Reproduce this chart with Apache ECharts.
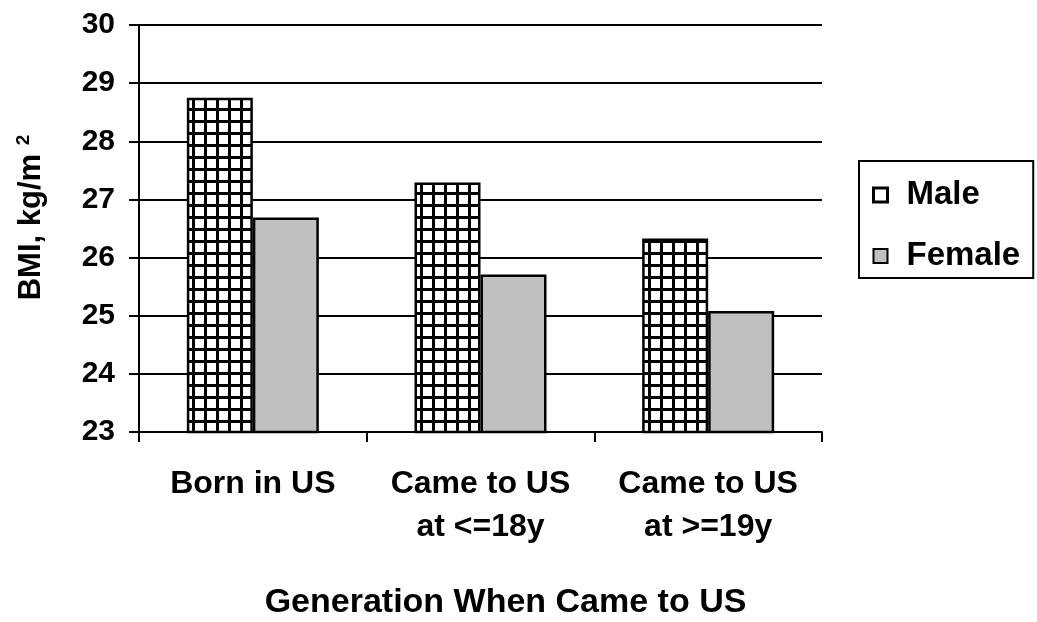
<!DOCTYPE html>
<html>
<head>
<meta charset="utf-8">
<script src="https://cdn.jsdelivr.net/npm/echarts@6/dist/echarts.min.js"></script>
<style>
  html, body { margin: 0; padding: 0; background: #fff; }
  #chart { width: 1037px; height: 622px; }
</style>
</head>
<body>
<div id="chart"></div>
<script>
// Mean BMI by generation / age at arrival in the US
const categories = ['Born in US', 'Came to US\nat <=18y', 'Came to US\nat >=19y'];
const seriesNames = ['Male', 'Female'];
const maleBMI = [28.75, 27.29, 26.33];
const femaleBMI = [26.69, 25.71, 25.08];
const yMin = 23;
const yMax = 30;
const yStep = 1;

const FONT = '"Liberation Sans", Arial, sans-serif';

// Black grid-line hatching used for the male bars
function gridPattern() {
  const c = document.createElement('canvas');
  c.width = 12; c.height = 12;
  const g = c.getContext('2d');
  g.fillStyle = '#ffffff';
  g.fillRect(0, 0, 12, 12);
  g.fillStyle = '#000000';
  g.fillRect(0, 0, 12, 3);
  g.fillRect(0, 0, 3, 12);
  return c;
}

const chart = echarts.init(document.getElementById('chart'), null, { renderer: 'canvas' });

chart.setOption({
  backgroundColor: '#ffffff',
  animation: false,
  textStyle: { fontFamily: FONT, color: '#000' },
  grid: { left: 139, right: 215, top: 25, bottom: 190, containLabel: false, outerBoundsMode: 'none' },
  legend: {
    orient: 'vertical',
    left: 859,
    top: 161,
    padding: [17, 13, 5, 13],
    borderColor: '#000',
    borderWidth: 2,
    backgroundColor: '#fff',
    itemWidth: 14,
    itemHeight: 14,
    itemGap: 27,
    selectedMode: false,
    textStyle: { fontFamily: FONT, fontSize: 33, fontWeight: 'bold', color: '#000', lineHeight: 34, padding: [0, 0, 0, 14] },
    data: [
      { name: seriesNames[0], icon: 'rect', itemStyle: { color: '#fff', borderColor: '#000', borderWidth: 3 } },
      { name: seriesNames[1], icon: 'rect', itemStyle: { color: '#c0c0c0', borderColor: '#000', borderWidth: 2 } }
    ]
  },
  xAxis: {
    type: 'category',
    data: categories,
    boundaryGap: true,
    name: 'Generation When Came to US',
    nameLocation: 'middle',
    nameGap: 154,
    nameTextStyle: { fontFamily: FONT, fontSize: 34, fontWeight: 'bold', color: '#000', padding: [0, 0, 0, 50] },
    axisLine: { lineStyle: { color: '#000', width: 2 } },
    axisTick: { show: true, alignWithLabel: false, length: 10, lineStyle: { color: '#000', width: 2 } },
    axisLabel: {
      fontFamily: FONT, fontSize: 32, fontWeight: 'bold', color: '#000',
      lineHeight: 43, margin: 31, interval: 0, align: 'center'
    },
    splitLine: { show: false }
  },
  yAxis: {
    type: 'value',
    min: yMin,
    max: yMax,
    interval: yStep,
    name: '{t|BMI, kg/m }{s|2}',
    nameLocation: 'middle',
    nameRotate: 90,
    nameGap: 90,
    nameTextStyle: {
      padding: [0, 0, 0, 22],
      rich: {
        t: { fontFamily: FONT, fontSize: 31, fontWeight: 'bold', color: '#000', lineHeight: 36 },
        s: { fontFamily: FONT, fontSize: 19, fontWeight: 'bold', color: '#000', lineHeight: 36, padding: [0, 0, 14, 0] }
      }
    },
    axisLine: { show: true, lineStyle: { color: '#000', width: 2 } },
    axisTick: { show: true, inside: false, length: 10, lineStyle: { color: '#000', width: 2 } },
    axisLabel: { fontFamily: FONT, fontSize: 30, fontWeight: 'bold', color: '#000', margin: 24 },
    splitLine: { show: true, lineStyle: { color: '#000', width: 2 } }
  },
  series: [
    {
      name: seriesNames[0],
      type: 'bar',
      data: maleBMI,
      barWidth: 66,
      barGap: '0%',
      itemStyle: { color: { image: gridPattern(), repeat: 'repeat' }, borderColor: '#000', borderWidth: 2.5 }
    },
    {
      name: seriesNames[1],
      type: 'bar',
      data: femaleBMI,
      barWidth: 66,
      barGap: '0%',
      itemStyle: { color: '#c0c0c0', borderColor: '#000', borderWidth: 2.5 }
    }
  ]
});
</script>
</body>
</html>
